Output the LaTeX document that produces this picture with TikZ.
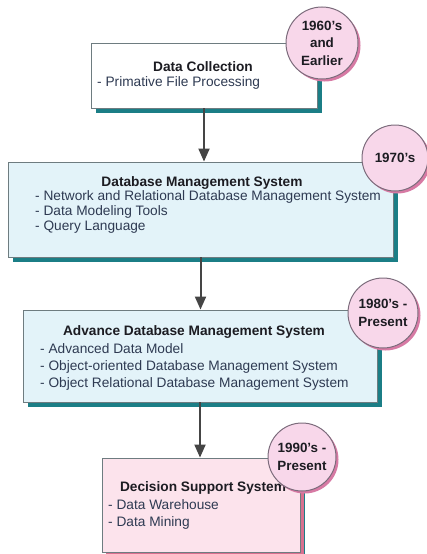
\documentclass[tikz,border=0pt]{standalone}
\usepackage{fontspec}
\setmainfont{Liberation Sans}
\usetikzlibrary{arrows.meta}
\usetikzlibrary{shadows}

\definecolor{boxline}{HTML}{6E7C80}
\definecolor{tealshade}{HTML}{1B7E86}
\definecolor{pinkshade}{HTML}{D8708F}
\definecolor{bluefill}{HTML}{E3F3F9}
\definecolor{pinkfill}{HTML}{FCE3EC}
\definecolor{erafill}{HTML}{F8D7EA}
\definecolor{eraline}{HTML}{7C6C7C}
\definecolor{erashade}{HTML}{D77AA4}
\definecolor{titletext}{HTML}{1C1C22}
\definecolor{itemtext}{HTML}{2E3A52}
\definecolor{arrowgray}{HTML}{454545}

\tikzset{
  stage/.style={rectangle, draw=boxline, line width=0.9pt, inner sep=0pt,
    drop shadow={shadow xshift=5pt, shadow yshift=-5pt, fill=tealshade, opacity=1}},
  era/.style={circle, draw=eraline, line width=1pt, fill=erafill, inner sep=0pt,
    align=center, text=titletext, font=\bfseries\fontsize{13.4}{17.5}\selectfont,
    drop shadow={shadow xshift=2.5pt, shadow yshift=-2.5pt, fill=erashade, opacity=1}},
  heading/.style={inner sep=0pt, text=titletext, font=\bfseries\fontsize{13.7}{16}\selectfont},
  items/.style={inner sep=0pt, anchor=west, align=left, text=itemtext},
  flow/.style={draw=arrowgray, line width=2pt, -{Triangle[width=11pt,length=13pt]}}
}

\begin{document}
\begin{tikzpicture}[x=1pt, y=-1pt]
  \useasboundingbox (0,0) rectangle (427,554);

  % stages
  \node[stage, fill=white, minimum width=226pt, minimum height=65pt] (dc) at (204,75.5) {};
  \node[stage, fill=bluefill, minimum width=385pt, minimum height=95pt] (dbms) at (200.5,209.5) {};
  \node[stage, fill=bluefill, minimum width=354pt, minimum height=92pt] (adbms) at (200,356) {};
  \node[stage, fill=pinkfill, minimum width=198pt, minimum height=94pt,
    drop shadow={shadow xshift=4pt, shadow yshift=-4pt, fill=pinkshade, opacity=1}] (dss) at (201,505) {};

  % texts
  \node[heading] (dctitle) at (203,67) {Data Collection};
  \node[items, font=\fontsize{13.7}{16}\selectfont] (dclist) at (97,83) {- Primative File Processing};

  \node[heading] (dbmstitle) at (202,183) {Database Management System};
  \node[items, font=\fontsize{13.7}{15}\selectfont] (dbmslist) at (35,212)
    {- Network and Relational Database Management System\\- Data Modeling Tools\\- Query Language};

  \node[heading] (adbmstitle) at (194,332) {Advance Database Management System};
  \node[items, font=\fontsize{13.7}{17}\selectfont] (adbmslist) at (40,367)
    {- Advanced Data Model\\- Object-oriented Database Management System\\- Object Relational Database Management System};

  \node[heading] (dsstitle) at (203,488) {Decision Support System};
  \node[items, font=\fontsize{13.7}{17}\selectfont] (dsslist) at (108,514.5)
    {- Data Warehouse\\- Data Mining};

  % flow
  \draw[flow] (dc.south) -- (dc.south |- dbms.north);
  \draw[flow] (dbms.south) -- (dbms.south |- adbms.north);
  \draw[flow] (adbms.south) -- (adbms.south |- dss.north);

  % eras
  \node[era, minimum size=72pt] (e1) at (322,43) {1960's\\and\\Earlier};
  \node[era, minimum size=66pt] (e2) at (395,158) {1970's};
  \node[era, minimum size=70pt] (e3) at (383,313) {1980's -\\Present};
  \node[era, minimum size=68pt] (e4) at (302,457) {1990's -\\Present};
\end{tikzpicture}
\end{document}
